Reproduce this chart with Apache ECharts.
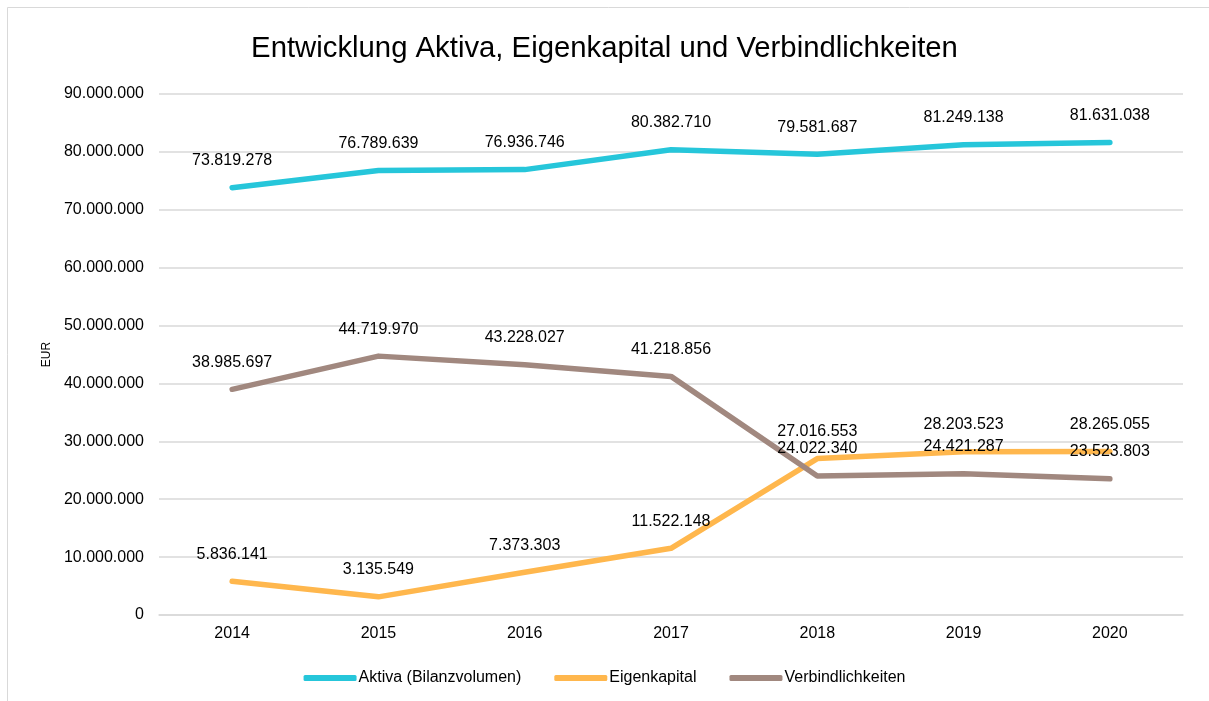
<!DOCTYPE html>
<html><head><meta charset="utf-8">
<script src="https://cdn.jsdelivr.net/npm/echarts@6/dist/echarts.min.js"></script>
<style>html,body{margin:0;padding:0;background:#fff}#c{width:1209px;height:701px}</style>
</head><body><div id="c"></div>
<script>
const categories = ['2014','2015','2016','2017','2018','2019','2020'];
const aktiva = [73819278, 76789639, 76936746, 80382710, 79581687, 81249138, 81631038];
const eigenkapital = [5836141, 3135549, 7373303, 11522148, 27016553, 28203523, 28265055];
const verbindlichkeiten = [38985697, 44719970, 43228027, 41218856, 24022340, 24421287, 23523803];
const yTicks = {min: 0, max: 90000000, interval: 10000000};

function fmt(v){ return String(Math.round(v)).replace(/\B(?=(\d{3})+(?!\d))/g, '.'); }
const font = 'Liberation Sans, Arial, sans-serif';
const chart = echarts.init(document.getElementById('c'));
function mk(name, data, color){
  return {name, type:'line', data, symbol:'circle', symbolSize:0.01, showSymbol:true, smooth:false,
    lineStyle:{color, width:5.5, cap:'round', join:'round'}, itemStyle:{color},
    label:{show:true, position:'top', distance:19, color:'#000', fontSize:16, fontFamily:font, formatter:p=>fmt(p.value)}};
}
chart.setOption({
  animation:false,
  backgroundColor:'#fff',
  graphic:[{type:'rect', shape:{x:7.5,y:7.5,width:1240,height:740}, style:{fill:'none', stroke:'#d9d9d9', lineWidth:1}, silent:true}],
  title:{text:'Entwicklung Aktiva, Eigenkapital und Verbindlichkeiten', left:'center', top:29,
    textStyle:{fontFamily:font, fontSize:29.3, fontWeight:'normal', color:'#000'}},
  legend:{bottom:10, left:'center', itemWidth:53, itemHeight:6, itemGap:33, icon:'roundRect',
    textStyle:{fontFamily:font, fontSize:16, color:'#000', padding:[0,0,0,-3]},
    data:['Aktiva (Bilanzvolumen)','Eigenkapital','Verbindlichkeiten']},
  grid:{left:159, right:26, top:94, bottom:86, containLabel:false},
  xAxis:{type:'category', data:categories, boundaryGap:true,
    axisLine:{show:true, lineStyle:{color:'#d9d9d9', width:1.5}}, axisTick:{show:false},
    axisLabel:{color:'#000', fontSize:16, fontFamily:font, margin:11}},
  yAxis:{type:'value', min:yTicks.min, max:yTicks.max, interval:yTicks.interval,
    name:'EUR', nameLocation:'middle', nameGap:101, nameRotate:90,
    nameTextStyle:{color:'#000', fontSize:12, fontFamily:font},
    axisLine:{show:false}, axisTick:{show:false},
    splitLine:{lineStyle:{color:'#d9d9d9', width:1.5}},
    axisLabel:{color:'#000', fontSize:16, fontFamily:font, margin:15, formatter:v=>fmt(v)}},
  series:[
    mk('Aktiva (Bilanzvolumen)', aktiva, '#26C6DA'),
    mk('Eigenkapital', eigenkapital, '#FFB74D'),
    mk('Verbindlichkeiten', verbindlichkeiten, '#A1887F')
  ]
});
</script></body></html>
